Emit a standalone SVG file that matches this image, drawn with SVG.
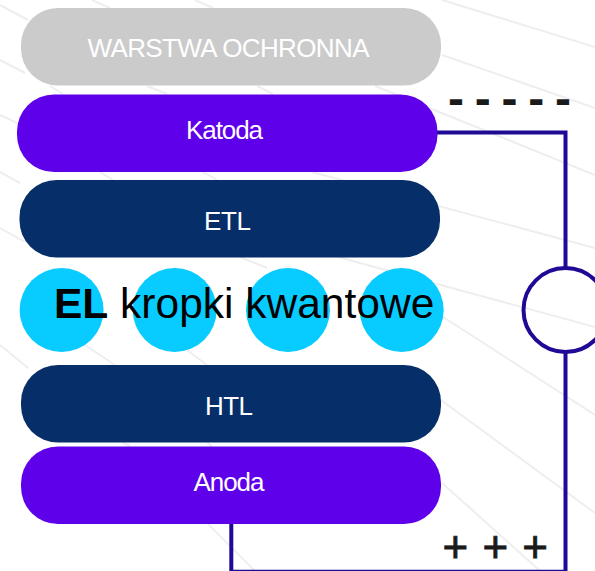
<svg xmlns="http://www.w3.org/2000/svg" width="595" height="571" viewBox="0 0 595 571">
<style>
.bg{fill:none;stroke:#eeeeee;stroke-width:2}
.w{font-family:"Liberation Sans",Arial,sans-serif;font-size:26px;fill:#fff}
.k{font-family:"Liberation Sans",Arial,sans-serif;fill:#000}
.s{font-family:"Liberation Sans",Arial,sans-serif;fill:#1a1a1a}
.c{fill:none;stroke:#1f0a96;stroke-width:4}
.dot{fill:#08ccff}
</style>
<rect width="595" height="571" fill="#fff"/>
<g id="background">
<path class="bg" d="M442 0L595 47M442 55L595 108M375 86L595 175M312 172L595 248M338 257L595 327M440 315L595 415M400 370L595 513M442 483L539 570M0 5L28 20M0 60L25 73M0 115L17 123M0 172L20 183M0 228L25 242M0 345L28 368M85 345L115 365M187 350L207 365M92 0L110 8M195 0L213 8M50 86L63 94M147 86L167 94M257 86L273 94M100 172L113 180M203 172L217 180M240 257L267 268M123 443L130 446M207 443L212 446M208 524L255 571"/>
</g>
<g id="connectors">
<path class="c" d="M437 132.500H565.500V268M565.500 352V571.700H231.300V524"/>
</g>
<g id="warstwa"><rect x="21" y="8" width="420" height="77.500" rx="37" fill="#cbcbcb"/><text class="w" x="87.500" y="56.500" textLength="282">WARSTWA OCHRONNA</text></g>
<g id="katoda"><rect x="17" y="94.500" width="420.500" height="77.500" rx="37" fill="#5f00eb"/><text class="w" x="186" y="138.500" textLength="77">Katoda</text></g>
<g id="etl"><rect x="19.500" y="180" width="420.500" height="77.500" rx="37" fill="#062f69"/><text class="w" x="204" y="229.500" textLength="47">ETL</text></g>
<g id="dots">
<circle class="dot" cx="61.600" cy="310" r="42"/><circle class="dot" cx="174.700" cy="310" r="42"/><circle class="dot" cx="288" cy="310" r="42"/><circle class="dot" cx="401.700" cy="310" r="42"/>
</g>
<g id="el"><text class="k" x="54" y="317.500" font-size="42.500"><tspan font-weight="bold">EL</tspan> kropki kwantowe</text></g>
<g id="htl"><rect x="21" y="365" width="420" height="77.500" rx="37" fill="#062f69"/><text class="w" x="205" y="415" textLength="48">HTL</text></g>
<g id="anoda"><rect x="21" y="446.500" width="420" height="77.500" rx="37" fill="#5f00eb"/><text class="w" x="193.500" y="490.700" textLength="71">Anoda</text></g>
<g id="source"><circle cx="565.500" cy="310" r="42" fill="none" stroke="#1f0a96" stroke-width="4"/></g>
<g id="minus"><text class="s" x="448" y="114.500" font-size="48" font-weight="bold" letter-spacing="-1.300">- - - - -</text></g>
<g id="plus"><text class="s" x="442.500" y="562" font-size="44" stroke="#1a1a1a" stroke-width="0.800" letter-spacing="1">+ + +</text></g>
</svg>
